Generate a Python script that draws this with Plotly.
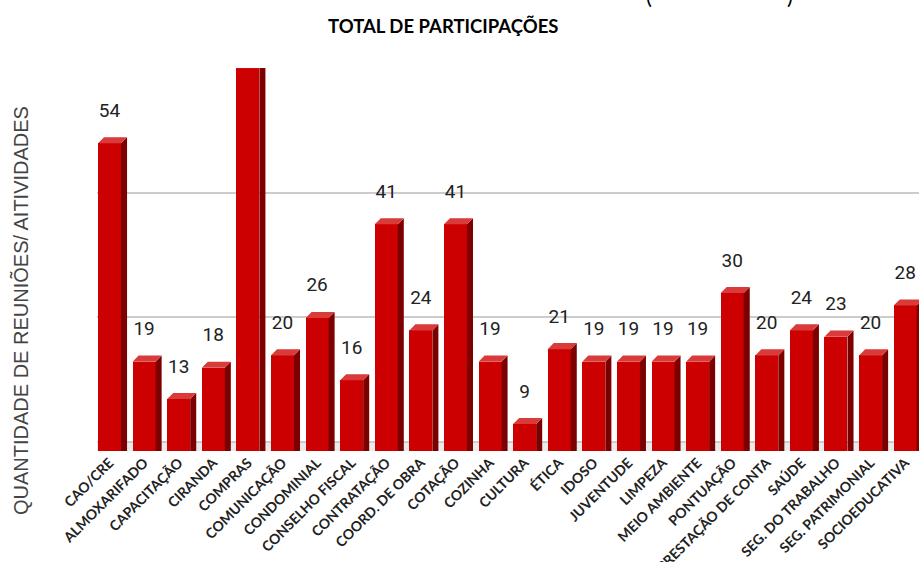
import plotly.graph_objects as go

# data
categories = ['CAO/CRE', 'ALMOXARIFADO', 'CAPACITAÇÃO', 'CIRANDA', 'COMPRAS',
              'COMUNICAÇÃO', 'CONDOMINIAL', 'CONSELHO FISCAL', 'CONTRATAÇÃO',
              'COORD. DE OBRA', 'COTAÇÃO', 'COZINHA', 'CULTURA', 'ÉTICA', 'IDOSO',
              'JUVENTUDE', 'LIMPEZA', 'MEIO AMBIENTE', 'PONTUAÇÃO',
              'PRESTAÇÃO DE CONTA', 'SAÚDE', 'SEG. DO TRABALHO',
              'SEG. PATRIMONIAL', 'SOCIOEDUCATIVA']
participacoes = [54, 19, 13, 18, 66, 20, 26, 16, 41, 24, 41, 19, 9, 21, 19,
                 19, 19, 19, 30, 20, 24, 23, 20, 28]
grid_vals = [6.1, 26.1, 46.1, 66.0]

FRONT = '#cc0000'
SIDE = '#7d0000'
TOP = '#d93a3a'

xs = list(range(len(categories)))
bw = 0.665        # front face width (category units)
dx = 0.175        # 3d depth, x
dy = 0.97         # 3d depth, y (data units)
base = 0

# side + top faces of the fake 3d bars
side_x, side_y, top_x, top_y = [], [], [], []
for x, v in zip(xs, participacoes):
    r = x + bw / 2
    l = x - bw / 2
    side_x += [r, r, r + dx, r + dx, r, None]
    side_y += [base, v, v + dy, base, base, None]
    top_x += [l, r, r + dx, l + dx, l, None]
    top_y += [v, v, v + dy, v + dy, v, None]

fig = go.Figure()
fig.add_trace(go.Scatter(x=side_x, y=side_y, mode='lines', fill='toself',
                         fillcolor=SIDE, line=dict(width=0), hoverinfo='skip'))
fig.add_trace(go.Bar(x=xs, y=participacoes, width=bw, marker_color=FRONT,
                     marker_line_width=0))
fig.add_trace(go.Scatter(x=top_x, y=top_y, mode='lines', fill='toself',
                         fillcolor=TOP, line=dict(width=0), hoverinfo='skip'))
# value labels
fig.add_trace(go.Scatter(x=xs, y=[v + 5 for v in participacoes], mode='text',
                         text=[str(v) for v in participacoes],
                         textposition='middle center', cliponaxis=False,
                         textfont=dict(family='Roboto', size=19, color='#222222'),
                         hoverinfo='skip'))

# floor
fig.add_shape(type='rect', xref='paper', yref='y', x0=0, x1=1, y0=4.68, y1=6.1,
              fillcolor='#ebebeb', line_width=0, layer='below')

fig.update_xaxes(range=[-0.361, 23.40], automargin=False,
                 tickvals=xs, ticktext=categories, tickangle=-45,
                 tickfont=dict(family='Lato', size=14, color='#222222', weight='bold'),
                 showgrid=False, zeroline=False, showline=False, ticks='')
fig.update_yaxes(range=[4.68, 66.05], tickvals=grid_vals, showticklabels=False,
                 automargin=False,
                 showgrid=True, gridcolor='#cccccc', gridwidth=1.5,
                 zeroline=False, showline=False, ticks='')

fig.add_annotation(text='TOTAL DE PARTICIPAÇÕES', xref='paper', yref='paper',
                   x=(443 - 97) / 822, y=1 + (68 - 26) / 383, showarrow=False,
                   xanchor='center', yanchor='middle',
                   font=dict(family='Lato', size=18.5, color='#000000', weight='bold'))
# first title line is cut off at the top of the image
fig.add_annotation(text='(                        )',
                   xref='paper', yref='paper',
                   x=(719 - 97) / 822, y=1 + (68 + 4) / 383, showarrow=False,
                   xanchor='center', yanchor='middle',
                   font=dict(family='Lato', size=22, color='#000000'))
fig.add_annotation(text='QUANTIDADE DE REUNIÕES/ AITIVIDADES', xref='paper',
                   yref='paper', x=(20 - 97) / 822, y=1 - (311 - 68) / 383,
                   xanchor='center', yanchor='middle',
                   textangle=-90, showarrow=False,
                   font=dict(family='Liberation Sans', size=20, color='#444444'))

fig.update_layout(width=919, height=562, showlegend=False,
                  plot_bgcolor='white', paper_bgcolor='white',
                  margin=dict(l=97, r=0, t=68, b=111, autoexpand=False), bargap=0)

# drop the default 8px page margin so the figure fills the window
fig.write_html('out.html', config={'displayModeBar': False},
               post_script="document.body.style.margin='0';")
